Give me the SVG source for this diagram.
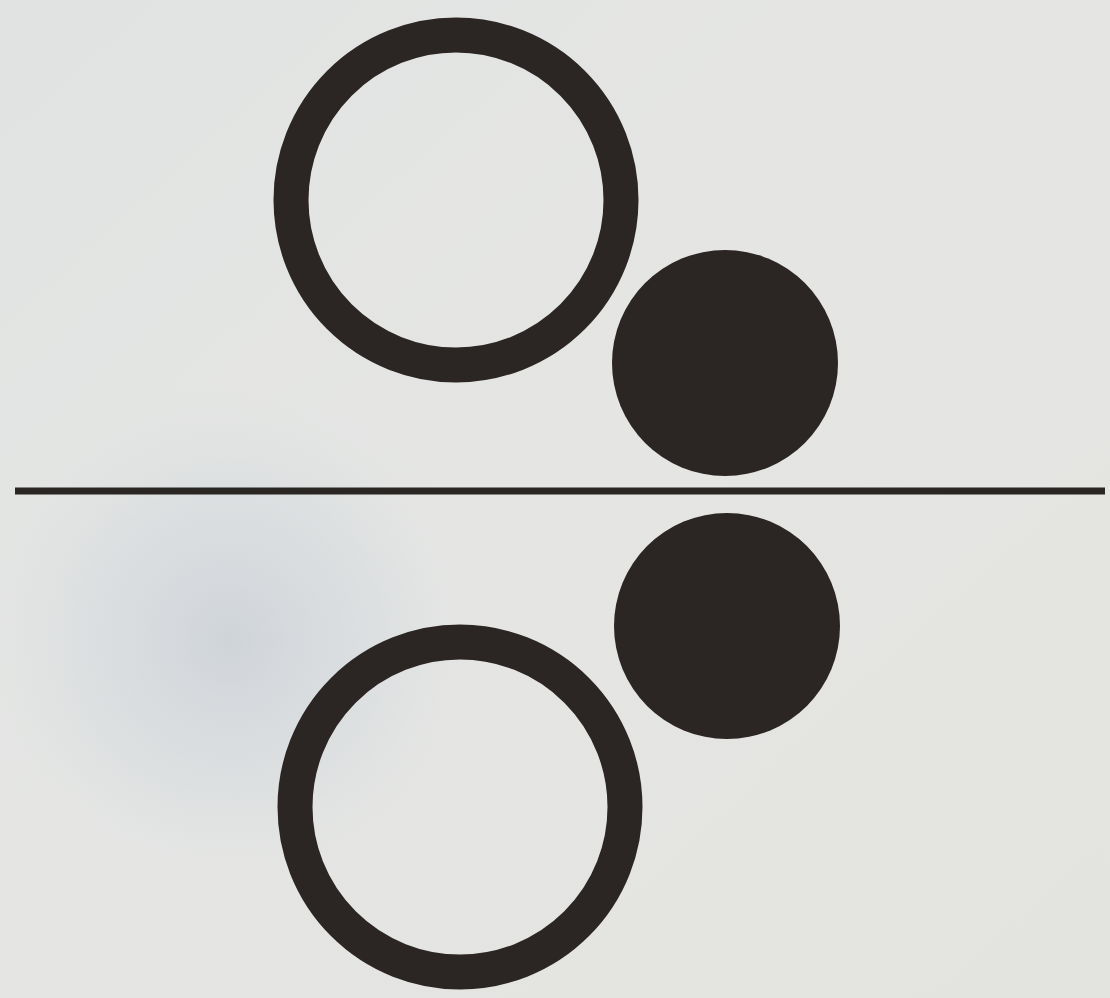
<svg xmlns="http://www.w3.org/2000/svg" width="1110" height="998" viewBox="0 0 1110 998">
  <defs>
    <radialGradient id="blob" cx="230" cy="640" r="260" gradientUnits="userSpaceOnUse">
      <stop offset="0" stop-color="#cdd2d8" stop-opacity="0.9"/>
      <stop offset="0.6" stop-color="#d6dade" stop-opacity="0.5"/>
      <stop offset="1" stop-color="#e2e4e3" stop-opacity="0"/>
    </radialGradient>
    <linearGradient id="paper" x1="0" y1="0" x2="1" y2="1">
      <stop offset="0" stop-color="#e1e3e2"/>
      <stop offset="0.5" stop-color="#e5e6e4"/>
      <stop offset="1" stop-color="#e3e3df"/>
    </linearGradient>
  </defs>
  <style>
    .ring { fill: none; stroke: #2b2523; stroke-width: 35; }
    .dot { fill: #2b2523; }
    .rule { stroke: #2a2624; stroke-width: 7; stroke-linecap: butt; }
  </style>
  <rect x="0" y="0" width="1110" height="998" fill="url(#paper)"/>
  <rect x="0" y="0" width="1110" height="998" fill="url(#blob)"/>
  <g id="connectors">
    <line class="rule" x1="15" y1="491" x2="1105" y2="491"/>
  </g>
  <g id="ring-top">
    <circle class="ring" cx="456" cy="200" r="165"/>
  </g>
  <g id="dot-top">
    <circle class="dot" cx="725" cy="363" r="113"/>
  </g>
  <g id="dot-bottom">
    <circle class="dot" cx="727" cy="626" r="113"/>
  </g>
  <g id="ring-bottom">
    <circle class="ring" cx="460" cy="807" r="165"/>
  </g>
</svg>
